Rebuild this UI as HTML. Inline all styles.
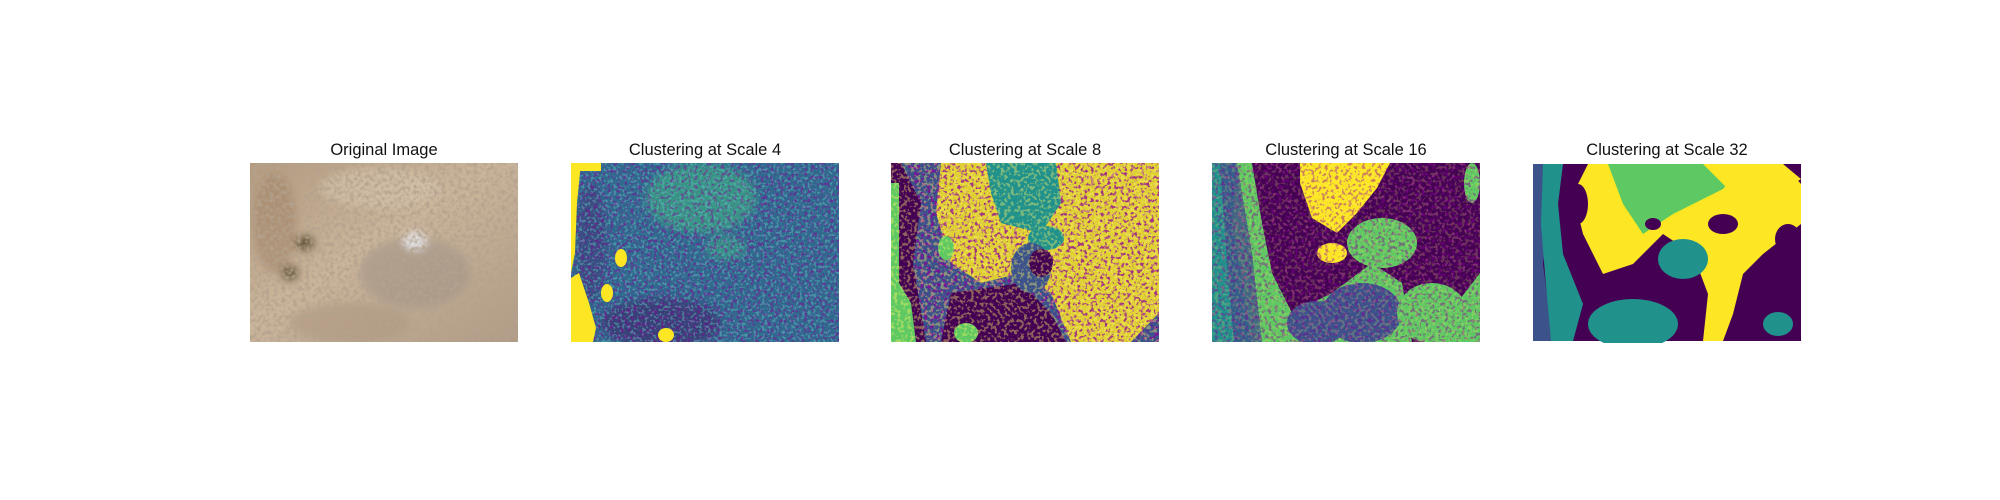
<!DOCTYPE html>
<html><head><meta charset="utf-8"><style>
html,body{margin:0;padding:0;background:#fff;}
svg{display:block;font-family:"Liberation Sans","DejaVu Sans",sans-serif;}
text{font-size:16.5px;fill:#111;text-anchor:middle;}
</style></head><body>
<svg width="2000" height="500" viewBox="0 0 2000 500">
<defs>
<filter id="speck" x="0" y="0" width="100%" height="100%">
<feTurbulence type="fractalNoise" baseFrequency="0.3" numOctaves="2" seed="3"/>
<feColorMatrix type="matrix" values="0 0 0 0 0.99  0 0 0 0 0.91  0 0 0 0 0.14  0 0 0 9 -4.6"/>
</filter>
<filter id="speckDark" x="0" y="0" width="100%" height="100%">
<feTurbulence type="fractalNoise" baseFrequency="0.3" numOctaves="2" seed="7"/>
<feColorMatrix type="matrix" values="0 0 0 0 0.27  0 0 0 0 0.0  0 0 0 0 0.33  0 0 0 9 -4.8"/>
</filter>
<filter id="speckTeal" x="0" y="0" width="100%" height="100%">
<feTurbulence type="fractalNoise" baseFrequency="0.35" numOctaves="2" seed="11"/>
<feColorMatrix type="matrix" values="0 0 0 0 0.13  0 0 0 0 0.57  0 0 0 0 0.55  0 0 0 8 -4.2"/>
</filter>
<filter id="grain" x="0" y="0" width="100%" height="100%">
<feTurbulence type="fractalNoise" baseFrequency="0.25" numOctaves="3" seed="5"/>
<feColorMatrix type="matrix" values="0 0 0 0 0.45  0 0 0 0 0.36  0 0 0 0 0.27  0 0 0 2.5 -1.0"/>
</filter>
<filter id="blur4"><feGaussianBlur stdDeviation="4"/></filter>
<clipPath id="cp"><rect width="268" height="179"/></clipPath>
<linearGradient id="orig" x1="0" y1="0" x2="1" y2="1">
<stop offset="0" stop-color="#b39a7e"/><stop offset="0.45" stop-color="#cbb59b"/><stop offset="1" stop-color="#b09a85"/>
</linearGradient>
</defs>

<text x="384" y="155">Original Image</text>
<g transform="translate(250,163)" clip-path="url(#cp)">
<rect width="268" height="179" fill="url(#orig)"/>
<g filter="url(#blur4)">
<ellipse cx="25" cy="60" rx="22" ry="50" fill="#a08468" opacity="0.6"/>
<ellipse cx="130" cy="25" rx="60" ry="20" fill="#d9c6b0" opacity="0.6"/>
<ellipse cx="165" cy="110" rx="55" ry="35" fill="#a09285" opacity="0.6"/>
<ellipse cx="55" cy="80" rx="10" ry="8" fill="#6d5c3f"/>
<ellipse cx="40" cy="110" rx="9" ry="8" fill="#6f6045"/>
<ellipse cx="165" cy="78" rx="12" ry="9" fill="#e3e3e6"/>
<ellipse cx="100" cy="160" rx="60" ry="20" fill="#a9927d" opacity="0.5"/>
</g>
<rect width="268" height="179" filter="url(#grain)"/>
</g>

<text x="705" y="155">Clustering at Scale 4</text>
<g transform="translate(571,163)" clip-path="url(#cp)">
<rect width="268" height="179" fill="#31688e"/>
<g filter="url(#blur4)">
<ellipse cx="130" cy="35" rx="55" ry="35" fill="#3aa882" opacity="0.7"/>
<ellipse cx="155" cy="85" rx="20" ry="12" fill="#3aa882" opacity="0.6"/>
<ellipse cx="90" cy="160" rx="60" ry="25" fill="#3a2e6e" opacity="0.7"/>
<ellipse cx="20" cy="80" rx="15" ry="60" fill="#3b3a78" opacity="0.6"/>
</g>
<rect width="268" height="179" filter="url(#speckDark)" opacity="0.45"/>
<rect width="268" height="179" filter="url(#speckTeal)" opacity="0.45"/>
<path d="M0 0 L10 0 L6 40 L4 90 L0 110 Z" fill="#fde725"/>
<path d="M0 115 L8 110 L18 140 L25 165 L22 179 L0 179 Z" fill="#fde725"/>
<ellipse cx="50" cy="95" rx="6" ry="9" fill="#fde725"/>
<ellipse cx="36" cy="130" rx="6" ry="9" fill="#fde725"/>
<ellipse cx="95" cy="172" rx="8" ry="7" fill="#fde725"/>
<rect x="0" y="0" width="30" height="8" fill="#fde725"/>
</g>

<text x="1025" y="155">Clustering at Scale 8</text>
<g transform="translate(891,163)" clip-path="url(#cp)">
<rect width="268" height="179" fill="#3b528b"/>
<path d="M50 0 L268 0 L268 150 L240 179 L180 179 L160 130 L130 110 L90 120 L60 100 L45 50 Z" fill="#fde725" opacity="0.85"/>
<rect width="268" height="179" filter="url(#speckDark)" opacity="0.75"/>
<path d="M95 0 L165 0 L170 40 L150 70 L110 60 L100 30 Z" fill="#21918c"/>
<ellipse cx="155" cy="75" rx="18" ry="12" fill="#21918c"/>
<path d="M0 0 L10 0 L30 40 L22 100 L35 179 L0 179 Z" fill="#440154"/>
<path d="M0 20 L8 20 L8 120 L20 140 L25 179 L0 179 Z" fill="#5ec962"/>
<path d="M60 130 L130 120 L160 150 L175 179 L50 179 Z" fill="#440154"/>
<ellipse cx="140" cy="105" rx="20" ry="25" fill="#3b528b"/>
<ellipse cx="150" cy="100" rx="12" ry="14" fill="#440154"/>
<ellipse cx="75" cy="170" rx="12" ry="10" fill="#5ec962"/>
<ellipse cx="55" cy="85" rx="8" ry="12" fill="#5ec962"/>
<rect width="268" height="179" filter="url(#speck)" opacity="0.4"/>
</g>

<text x="1346" y="155">Clustering at Scale 16</text>
<g transform="translate(1212,163)" clip-path="url(#cp)">
<rect width="268" height="179" fill="#5ec962"/>
<path d="M0 0 L25 0 L20 60 L30 120 L40 179 L0 179 Z" fill="#21918c"/>
<path d="M8 0 L25 0 L40 90 L50 179 L22 179 L15 100 Z" fill="#3b528b" opacity="0.8"/>
<path d="M40 0 L268 0 L268 110 L245 140 L230 179 L200 179 L190 120 L160 100 L120 130 L80 150 L60 110 L50 60 Z" fill="#440154"/>
<path d="M88 0 L178 0 L165 25 L145 50 L125 70 L100 55 L88 20 Z" fill="#fde725"/>
<ellipse cx="170" cy="80" rx="35" ry="25" fill="#5ec962"/>
<ellipse cx="150" cy="150" rx="40" ry="30" fill="#3b528b"/>
<ellipse cx="105" cy="160" rx="30" ry="22" fill="#3b528b"/>
<ellipse cx="220" cy="150" rx="35" ry="30" fill="#5ec962"/>
<ellipse cx="260" cy="20" rx="8" ry="20" fill="#5ec962"/>
<ellipse cx="120" cy="90" rx="15" ry="10" fill="#fde725"/>
<rect width="268" height="179" filter="url(#speckDark)" opacity="0.45"/>
<rect width="268" height="179" filter="url(#speck)" opacity="0.2"/>
</g>

<text x="1667" y="155">Clustering at Scale 32</text>
<g transform="translate(1533,164)" clip-path="url(#cp)">
<rect width="268" height="177" fill="#440154"/>
<path d="M0 0 L25 0 L15 50 L10 100 L20 177 L0 177 Z" fill="#3b528b"/>
<path d="M10 0 L30 0 L25 40 L30 90 L50 140 L40 177 L18 177 L12 110 L8 60 Z" fill="#21918c"/>
<path d="M55 0 L250 0 L268 20 L268 60 L230 90 L210 110 L200 150 L190 177 L170 177 L175 130 L160 90 L130 70 L100 100 L70 110 L50 70 L40 30 Z" fill="#fde725"/>
<path d="M75 0 L210 0 L190 25 L140 50 L110 70 L90 40 Z" fill="#5ec962"/>
<path d="M170 0 L250 0 L268 15 L230 40 L200 30 Z" fill="#fde725"/>
<ellipse cx="150" cy="95" rx="25" ry="20" fill="#21918c"/>
<ellipse cx="100" cy="160" rx="45" ry="25" fill="#21918c"/>
<ellipse cx="245" cy="160" rx="15" ry="12" fill="#21918c"/>
<ellipse cx="190" cy="60" rx="15" ry="10" fill="#440154"/>
<ellipse cx="45" cy="40" rx="10" ry="20" fill="#440154"/>
<ellipse cx="255" cy="75" rx="13" ry="15" fill="#440154"/>
<ellipse cx="120" cy="60" rx="8" ry="6" fill="#440154"/>
</g>
</svg>
</body></html>
